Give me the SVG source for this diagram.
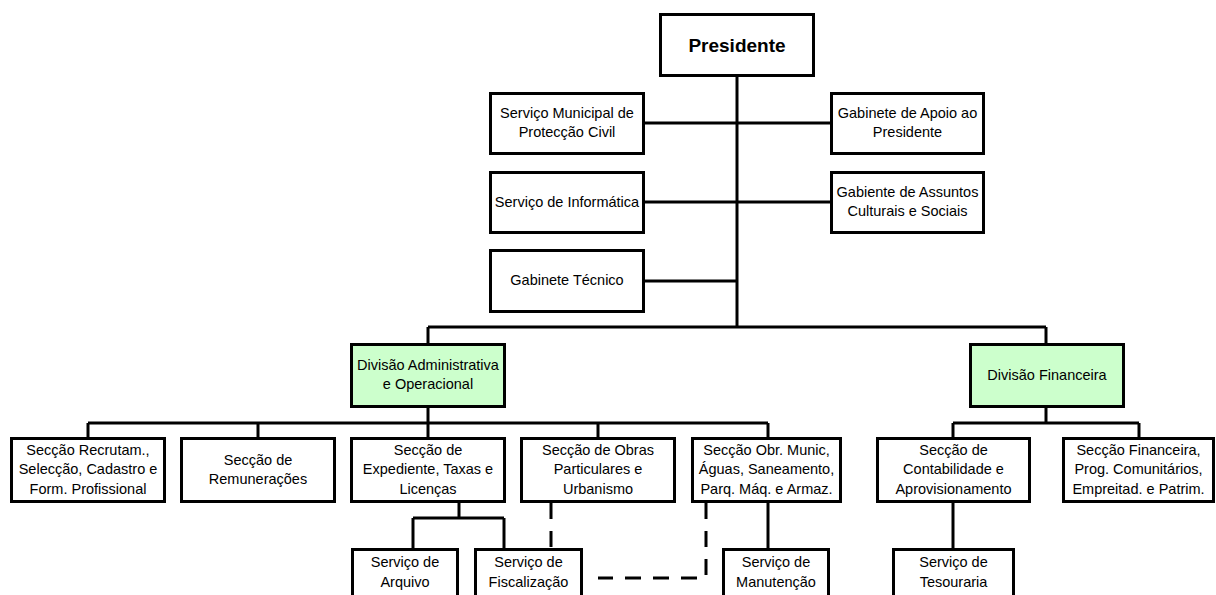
<svg xmlns="http://www.w3.org/2000/svg" width="1216" height="595" viewBox="0 0 1216 595">
<style>
.b{fill:#fff;stroke:#000;stroke-width:3}
.g{fill:#ccffcc;stroke:#000;stroke-width:3}
text{font-family:"Liberation Sans",Arial,sans-serif;font-size:14.5px;fill:#000;text-anchor:middle}
.p{font-size:19px;font-weight:bold}
.c line,.c polyline{stroke:#000;stroke-width:3;fill:none}
.c .d{stroke-dasharray:16 12}
</style>
<rect width="1216" height="595" fill="#fff"/>
<g class="c" id="connectors">
<line x1="737" y1="76" x2="737" y2="327"/>
<line x1="645" y1="123" x2="831" y2="123"/>
<line x1="645" y1="202" x2="831" y2="202"/>
<line x1="645" y1="281" x2="737" y2="281"/>
<line x1="428" y1="327" x2="1046" y2="327"/>
<line x1="428" y1="327" x2="428" y2="344"/>
<line x1="1046" y1="327" x2="1046" y2="344"/>
<line x1="428" y1="408" x2="428" y2="423"/>
<line x1="88" y1="423" x2="768" y2="423"/>
<line x1="88" y1="423" x2="88" y2="438"/>
<line x1="258" y1="423" x2="258" y2="438"/>
<line x1="428" y1="423" x2="428" y2="438"/>
<line x1="598" y1="423" x2="598" y2="438"/>
<line x1="768" y1="423" x2="768" y2="438"/>
<line x1="1046" y1="408" x2="1046" y2="423"/>
<line x1="953" y1="423" x2="1139" y2="423"/>
<line x1="953" y1="423" x2="953" y2="438"/>
<line x1="1139" y1="423" x2="1139" y2="438"/>
<line x1="459" y1="503" x2="459" y2="518"/>
<line x1="413" y1="518" x2="504" y2="518"/>
<line x1="413" y1="518" x2="413" y2="549"/>
<line x1="504" y1="518" x2="504" y2="549"/>
<line x1="768" y1="503" x2="768" y2="549"/>
<line x1="953" y1="503" x2="953" y2="549"/>
<line class="d" x1="551" y1="503" x2="551" y2="549"/>
<polyline class="d" points="706,503 706,578 598,578"/>
</g>
<g id="presidente"><rect class="b" x="660.5" y="14.5" width="153" height="61"/><text class="p" x="737" y="52">Presidente</text></g>
<g id="protecao"><rect class="b" x="490.5" y="93.5" width="153" height="60"/><text x="567" y="118">Serviço Municipal de</text><text x="567" y="137">Protecção Civil</text></g>
<g id="informatica"><rect class="b" x="490.5" y="172.5" width="153" height="60"/><text x="567" y="207">Serviço de Informática</text></g>
<g id="tecnico"><rect class="b" x="490.5" y="250.5" width="153" height="61"/><text x="567" y="285">Gabinete Técnico</text></g>
<g id="apoio"><rect class="b" x="831.5" y="93.5" width="152" height="60"/><text x="907.5" y="118">Gabinete de Apoio ao</text><text x="907.5" y="137">Presidente</text></g>
<g id="culturais"><rect class="b" x="831.5" y="172.5" width="152" height="60"/><text x="907.5" y="197">Gabiente de Assuntos</text><text x="907.5" y="216">Culturais e Sociais</text></g>
<g id="div-admin"><rect class="g" x="351.5" y="344.5" width="153" height="62"/><text x="428" y="370">Divisão Administrativa</text><text x="428" y="389">e Operacional</text></g>
<g id="div-fin"><rect class="g" x="970.5" y="344.5" width="153" height="62"/><text x="1047" y="380">Divisão Financeira</text></g>
<g id="recrutam"><rect class="b" x="11.5" y="438.5" width="153" height="63"/><text x="88" y="455">Secção Recrutam.,</text><text x="88" y="474">Selecção, Cadastro e</text><text x="88" y="494">Form. Profissional</text></g>
<g id="remuneracoes"><rect class="b" x="181.5" y="438.5" width="153" height="63"/><text x="258" y="465">Secção de</text><text x="258" y="484">Remunerações</text></g>
<g id="expediente"><rect class="b" x="351.5" y="438.5" width="153" height="63"/><text x="428" y="455">Secção de</text><text x="428" y="474">Expediente, Taxas e</text><text x="428" y="494">Licenças</text></g>
<g id="obras"><rect class="b" x="521.5" y="438.5" width="153" height="63"/><text x="598" y="455">Secção de Obras</text><text x="598" y="474">Particulares e</text><text x="598" y="494">Urbanismo</text></g>
<g id="obr-munic"><rect class="b" x="692.5" y="438.5" width="148" height="63"/><text x="766.5" y="455">Secção Obr. Munic,</text><text x="766.5" y="474">Águas, Saneamento,</text><text x="766.5" y="494">Parq. Máq. e Armaz.</text></g>
<g id="contabilidade"><rect class="b" x="877.5" y="438.5" width="152" height="63"/><text x="953.5" y="455">Secção de</text><text x="953.5" y="474">Contabilidade e</text><text x="953.5" y="494">Aprovisionamento</text></g>
<g id="financeira"><rect class="b" x="1063.5" y="438.5" width="150" height="63"/><text x="1138.5" y="455">Secção Financeira,</text><text x="1138.5" y="474">Prog. Comunitários,</text><text x="1138.5" y="494">Empreitad. e Patrim.</text></g>
<g id="arquivo"><rect class="b" x="352.5" y="549.5" width="105" height="60"/><text x="405" y="567">Serviço de</text><text x="405" y="587">Arquivo</text></g>
<g id="fiscalizacao"><rect class="b" x="475.5" y="549.5" width="106" height="60"/><text x="528.5" y="567">Serviço de</text><text x="528.5" y="587">Fiscalização</text></g>
<g id="manutencao"><rect class="b" x="723.5" y="549.5" width="105" height="60"/><text x="776" y="567">Serviço de</text><text x="776" y="587">Manutenção</text></g>
<g id="tesouraria"><rect class="b" x="893.5" y="549.5" width="120" height="60"/><text x="953.5" y="567">Serviço de</text><text x="953.5" y="587">Tesouraria</text></g>
</svg>
